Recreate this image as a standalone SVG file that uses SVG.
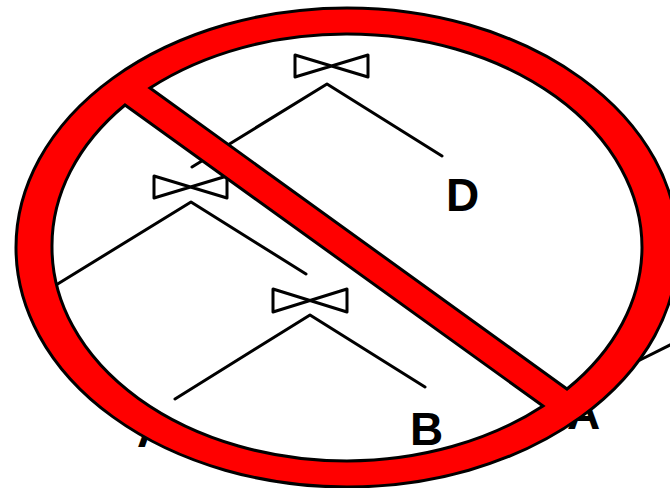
<svg xmlns="http://www.w3.org/2000/svg" width="670" height="488" viewBox="0 0 670 488">
<style>
.t{font-family:"Liberation Sans",Arial,sans-serif;font-weight:700;font-size:46px;fill:#000}
.l{fill:none;stroke:#000;stroke-width:3;stroke-linecap:round;stroke-linejoin:round}
.b{fill:#fff;stroke:#000;stroke-width:3;stroke-linejoin:round}
</style>
<rect width="670" height="488" fill="#fff"/>
<g id="connectors">
<path class="l" d="M192 167L327 84L442 156"/>
<path class="l" d="M56 285L191 202L306 274"/>
<path class="l" d="M175 399L310 315L425 387"/>
<path class="l" d="M640 360L672 344"/>
</g>
<g id="join1"><path class="b" d="M295 55L368 77V55L295 77Z"/></g>
<g id="join2"><path class="b" d="M154 176L227 198V176L154 198Z"/></g>
<g id="join3"><path class="b" d="M273 289L347 312V289L273 312Z"/></g>
<g id="label-d"><text class="t" x="446" y="211">D</text></g>
<g id="label-c"><text class="t" x="34" y="335">C</text></g>
<g id="label-b"><text class="t" x="410" y="445">B</text></g>
<g id="label-a1"><text class="t" x="137" y="447">A</text></g>
<g id="label-a2"><text class="t" x="567" y="429">A</text></g>
<g id="prohibition">
<path fill="#f00" stroke="#000" stroke-width="3" fill-rule="evenodd" d="M16 247.5A331 239.5 0 1 1 678 247.5A331 239.5 0 1 1 16 247.5ZM150 88L567 389A295 213.5 0 0 0 642 247.5A295 213.5 0 0 0 347 34A295 213.5 0 0 0 150 88ZM125 105L543 406A295 213.5 0 0 1 347 461A295 213.5 0 0 1 52 247.5A295 213.5 0 0 1 125 105Z"/>
</g>
</svg>
